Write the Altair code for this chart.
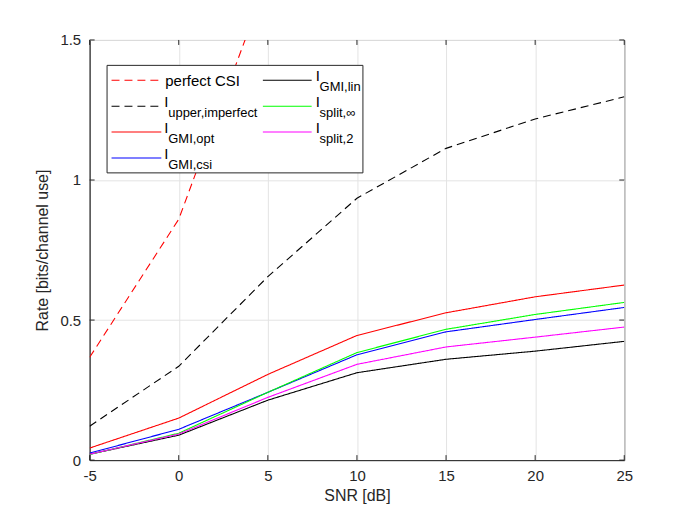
import altair as alt
import pandas as pd

snr = [-5, 0, 5, 10, 15, 20, 25]
perfect_csi = [0.367, 0.860, 1.72, 2.60, 3.40, 4.05, 4.60]
upper_imperfect = [0.121, 0.335, 0.655, 0.935, 1.113, 1.218, 1.297]
gmi_opt = [0.043, 0.150, 0.306, 0.445, 0.526, 0.583, 0.625]
gmi_csi = [0.025, 0.110, 0.242, 0.376, 0.458, 0.502, 0.545]
gmi_lin = [0.021, 0.089, 0.214, 0.312, 0.360, 0.389, 0.424]
split_inf = [0.020, 0.096, 0.242, 0.384, 0.467, 0.520, 0.563]
split_2 = [0.021, 0.093, 0.224, 0.342, 0.404, 0.439, 0.475]

series_names = ["perfect CSI", "upper,imperfect", "GMI,opt", "GMI,csi", "GMI,lin", "split,inf", "split,2"]
series_vals = [perfect_csi, upper_imperfect, gmi_opt, gmi_csi, gmi_lin, split_inf, split_2]
series_colors = ["#ff0000", "#000000", "#ff0000", "#0000ff", "#000000", "#00ff00", "#ff00ff"]
series_dash = ["dash", "dash", "solid", "solid", "solid", "solid", "solid"]

x_ticks = [-5, 0, 5, 10, 15, 20, 25]
y_ticks = [0, 0.5, 1, 1.5]

rows = []
for name, vals, dsh in zip(series_names, series_vals, series_dash):
    for s, v in zip(snr, vals):
        rows.append({"series": name, "snr": s, "rate": v, "dash": dsh})
df = pd.DataFrame(rows)

FONT = "Liberation Sans"
AX = "#262626"

xscale = alt.Scale(domain=[-5, 25], nice=False, zero=False)
yscale = alt.Scale(domain=[0, 1.5], nice=False)

xaxis = alt.Axis(values=x_ticks, title="SNR [dB]", ticks=False, labelPadding=8,
                 titlePadding=5, labelFontSize=15, titleFontSize=16, labelFont=FONT,
                 titleFont=FONT, labelColor=AX, titleColor=AX, titleFontWeight="normal",
                 domainColor=AX, gridColor="#e3e3e3", labelFlush=False,
                 labelExpr="'' + datum.value")
yaxis = alt.Axis(values=y_ticks, title="Rate [bits/channel use]", ticks=False, labelPadding=9,
                 titlePadding=9, labelFontSize=15, titleFontSize=16, labelFont=FONT,
                 titleFont=FONT, labelColor=AX, titleColor=AX, titleFontWeight="normal",
                 domainColor=AX, gridColor="#e3e3e3", labelFlush=False,
                 labelExpr="'' + datum.value")

lines = alt.Chart(df).mark_line(strokeWidth=1.1, clip=True).encode(
    x=alt.X("snr:Q", scale=xscale, axis=xaxis),
    y=alt.Y("rate:Q", scale=yscale, axis=yaxis),
    color=alt.Color("series:N", scale=alt.Scale(domain=series_names, range=series_colors), legend=None),
    strokeDash=alt.StrokeDash("dash:N", scale=alt.Scale(domain=["dash", "solid"], range=[[8, 5], [1, 0]]), legend=None),
    detail="series:N",
)

# inward tick marks (MATLAB style) on all four sides
xt = pd.DataFrame({"v": x_ticks})
yt = pd.DataFrame({"v": y_ticks})
tb = alt.Chart(xt).mark_rule(color=AX, strokeWidth=1).encode(
    x=alt.X("v:Q", scale=xscale), y=alt.value(422), y2=alt.value(417))
tt = alt.Chart(xt).mark_rule(color=AX, strokeWidth=1).encode(
    x=alt.X("v:Q", scale=xscale), y=alt.value(0), y2=alt.value(5))
tl = alt.Chart(yt).mark_rule(color=AX, strokeWidth=1).encode(
    y=alt.Y("v:Q", scale=yscale), x=alt.value(0), x2=alt.value(5))
tr = alt.Chart(yt).mark_rule(color=AX, strokeWidth=1).encode(
    y=alt.Y("v:Q", scale=yscale), x=alt.value(537), x2=alt.value(532))

one = pd.DataFrame({"a": [0]})
base1 = alt.Chart(one)

legend_box = base1.mark_rect(fill="white", stroke=AX, strokeWidth=1).encode(
    x=alt.value(17.5), x2=alt.value(274.5), y=alt.value(25.5), y2=alt.value(133.5))

row_y = [40.5, 66.5, 92.5, 118.5]
legend_layers = [legend_box]

entries = [
    # (col, row, color, dashed, main, sub)
    (0, 0, "#ff0000", True, "perfect CSI", None),
    (0, 1, "#000000", True, "I", "upper,imperfect"),
    (0, 2, "#ff0000", False, "I", "GMI,opt"),
    (0, 3, "#0000ff", False, "I", "GMI,csi"),
    (1, 0, "#000000", False, "I", "GMI,lin"),
    (1, 1, "#00ff00", False, "I", "split,\u221e"),
    (1, 2, "#ff00ff", False, "I", "split,2"),
]
col_line = [(22, 72), (174, 223)]
col_text = [75, 227]

for col, r, colr, dashed, main, sub in entries:
    yv = row_y[r]
    x1, x2 = col_line[col]
    kw = dict(color=colr, strokeWidth=1.1)
    if dashed:
        kw["strokeDash"] = [8, 5]
    legend_layers.append(base1.mark_rule(**kw).encode(
        x=alt.value(x1), x2=alt.value(x2), y=alt.value(yv)))
    if sub is None:
        legend_layers.append(base1.mark_text(text=main, font=FONT, fontSize=15, color="#000000",
                                             align="left", baseline="alphabetic").encode(
            x=alt.value(col_text[col] + 1), y=alt.value(yv + 6)))
    else:
        legend_layers.append(base1.mark_text(text=main, font=FONT, fontSize=15, color="#000000",
                                             align="left", baseline="alphabetic").encode(
            x=alt.value(col_text[col]), y=alt.value(yv + 1)))
        legend_layers.append(base1.mark_text(text=sub, font=FONT, fontSize=13, color="#000000",
                                             align="left", baseline="alphabetic").encode(
            x=alt.value(col_text[col] + 4), y=alt.value(yv + 11)))

chart = alt.layer(lines, tb, tt, tl, tr, *legend_layers).properties(
    width=537, height=422,
    autosize=alt.AutoSizeParams(type="none"),
    padding={"left": 82, "top": 31, "right": 60, "bottom": 50},
    background="white",
).configure_view(stroke=AX, strokeWidth=1)

chart.save("out.html", embed_options={"renderer": "svg", "actions": False})
